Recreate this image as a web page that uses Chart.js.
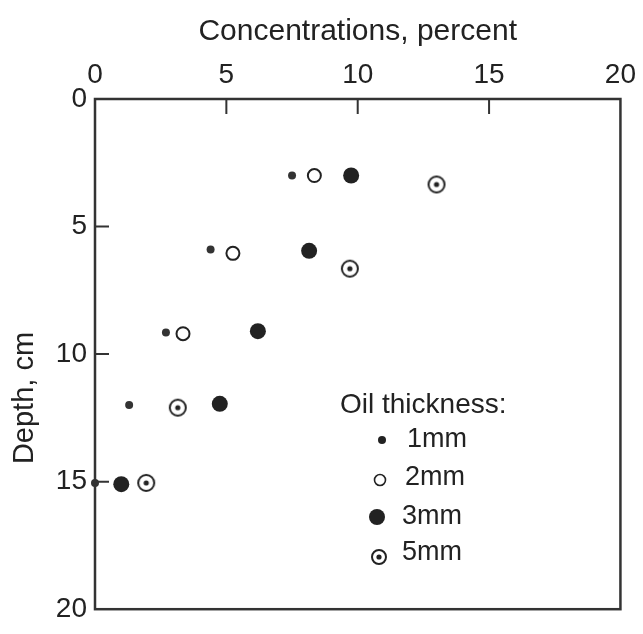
<!DOCTYPE html>
<html>
<head>
<meta charset="utf-8">
<script src="https://cdn.jsdelivr.net/npm/chart.js@4"></script>
<style>
  html, body { margin: 0; padding: 0; background: #fff; }
  #wrap { position: relative; width: 643px; height: 634px; }
</style>
</head>
<body>
<div id="wrap"><canvas id="chart"></canvas></div>
<script>
// concentration (percent) and depth (cm) for each oil thickness
const conc1mm = [7.5, 4.4, 2.7, 1.3, 0];
const depth1mm = [3, 5.9, 9.15, 12, 15.05];
const conc2mm = [8.35, 5.25, 3.35];
const depth2mm = [3, 6.05, 9.2];
const conc3mm = [9.75, 8.15, 6.2, 4.75, 1.0];
const depth3mm = [3, 5.95, 9.1, 11.95, 15.1];
const conc5mm = [13.0, 9.7, 3.15, 1.95];
const depth5mm = [3.35, 6.65, 12.1, 15.05];

const xTicks = [0, 5, 10, 15, 20];
const yTicks = [0, 5, 10, 15, 20];
const legendLabels = ["1mm", "2mm", "3mm", "5mm"];

const INK = "#222";
const FONT = "'Liberation Sans', Arial, sans-serif";

function pts(xs, ys) {
  return xs.map((x, i) => ({ x, y: ys[i] }));
}

// circle with a dot in the middle, used for the 5mm series
function dotCircle(r) {
  const c = document.createElement("canvas");
  const s = Math.ceil(r * 2 + 4);
  c.width = s;
  c.height = s;
  const g = c.getContext("2d");
  g.strokeStyle = INK;
  g.lineWidth = 2;
  g.beginPath();
  g.arc(s / 2, s / 2, r, 0, Math.PI * 2);
  g.stroke();
  g.fillStyle = INK;
  g.beginPath();
  g.arc(s / 2, s / 2, 2.6, 0, Math.PI * 2);
  g.fill();
  return c;
}
const markPlot = dotCircle(8);
const markLegend = dotCircle(7);

const frameAndTicks = {
  id: "frameAndTicks",
  afterDraw(chart) {
    const { ctx, chartArea: a, scales } = chart;
    ctx.save();
    ctx.strokeStyle = "#333";
    ctx.lineWidth = 2.5;
    ctx.strokeRect(a.left, a.top, a.right - a.left, a.bottom - a.top);
    ctx.lineWidth = 2;
    ctx.beginPath();
    xTicks.slice(1, -1).forEach((v) => {
      const px = scales.x.getPixelForValue(v);
      ctx.moveTo(px, a.top);
      ctx.lineTo(px, a.top + 15);
    });
    yTicks.slice(1, -1).forEach((v) => {
      const py = scales.y.getPixelForValue(v);
      ctx.moveTo(a.left, py);
      ctx.lineTo(a.left + 14, py);
    });
    ctx.stroke();

    // y axis title
    ctx.fillStyle = INK;
    ctx.font = "29px " + FONT;
    ctx.textAlign = "center";
    ctx.textBaseline = "middle";
    ctx.translate(25, 398);
    ctx.rotate(-Math.PI / 2);
    ctx.fillText("Depth, cm", 0, 0);
    ctx.restore();
  }
};

// legend box inside the plot area
const oilLegend = {
  id: "oilLegend",
  afterDraw(chart) {
    const { ctx } = chart;
    ctx.save();
    ctx.fillStyle = INK;
    ctx.textBaseline = "middle";
    ctx.textAlign = "left";
    ctx.font = "28px " + FONT;
    ctx.fillText("Oil thickness:", 340, 405);
    ctx.font = "27px " + FONT;
    const rows = [440, 478, 517, 553];
    const mx = [382, 380, 377, 379];
    const tx = [407, 405, 402, 402];
    rows.forEach((y, i) => {
      ctx.fillStyle = INK;
      ctx.strokeStyle = INK;
      ctx.beginPath();
      if (i === 0) {
        ctx.arc(mx[i], y, 4, 0, Math.PI * 2);
        ctx.fill();
      } else if (i === 1) {
        ctx.lineWidth = 1.6;
        ctx.arc(mx[i], y + 2, 5.5, 0, Math.PI * 2);
        ctx.stroke();
      } else if (i === 2) {
        ctx.arc(mx[i], y, 8, 0, Math.PI * 2);
        ctx.fill();
      } else {
        ctx.drawImage(markLegend, mx[i] - markLegend.width / 2, y + 4 - markLegend.height / 2);
      }
      ctx.fillText(legendLabels[i], tx[i], y);
    });
    ctx.restore();
  }
};

new Chart(document.getElementById("chart"), {
  type: "scatter",
  data: {
    datasets: [
      {
        label: legendLabels[0],
        data: pts(conc1mm, depth1mm),
        pointStyle: "circle",
        pointRadius: 4,
        backgroundColor: "#333",
        borderColor: "#333",
        borderWidth: 0,
        clip: false
      },
      {
        label: legendLabels[1],
        data: pts(conc2mm, depth2mm),
        pointStyle: "circle",
        pointRadius: 6.5,
        backgroundColor: "#fff",
        borderColor: INK,
        borderWidth: 2,
        clip: false
      },
      {
        label: legendLabels[2],
        data: pts(conc3mm, depth3mm),
        pointStyle: "circle",
        pointRadius: 8,
        backgroundColor: INK,
        borderColor: INK,
        borderWidth: 0,
        clip: false
      },
      {
        label: legendLabels[3],
        data: pts(conc5mm, depth5mm),
        pointStyle: markPlot,
        pointRadius: 9,
        clip: false
      }
    ]
  },
  options: {
    responsive: true,
    maintainAspectRatio: false,
    animation: false,
    events: [],
    layout: { padding: { top: 0, left: 0, right: 13, bottom: 4 } },
    plugins: {
      legend: { display: false },
      tooltip: { enabled: false }
    },
    scales: {
      x: {
        type: "linear",
        position: "top",
        min: 0,
        max: 20,
        afterBuildTicks: (s) => { s.ticks = xTicks.map((v) => ({ value: v })); },
        afterFit: (s) => { s.height = 99; },
        grid: { display: false, drawTicks: false },
        border: { display: false },
        ticks: {
          color: INK,
          padding: 7,
          maxRotation: 0,
          font: { family: FONT, size: 28 }
        },
        title: {
          display: true,
          text: "Concentrations, percent",
          color: INK,
          padding: { top: 14, bottom: 0 },
          font: { family: FONT, size: 30 }
        }
      },
      y: {
        type: "linear",
        reverse: true,
        min: 0,
        max: 20,
        afterBuildTicks: (s) => { s.ticks = yTicks.map((v) => ({ value: v })); },
        afterFit: (s) => { s.width = 95; },
        grid: { display: false, drawTicks: false },
        border: { display: false },
        ticks: {
          color: INK,
          padding: 8,
          font: { family: FONT, size: 28 }
        }
      }
    }
  },
  plugins: [frameAndTicks, oilLegend]
});
</script>
</body>
</html>
